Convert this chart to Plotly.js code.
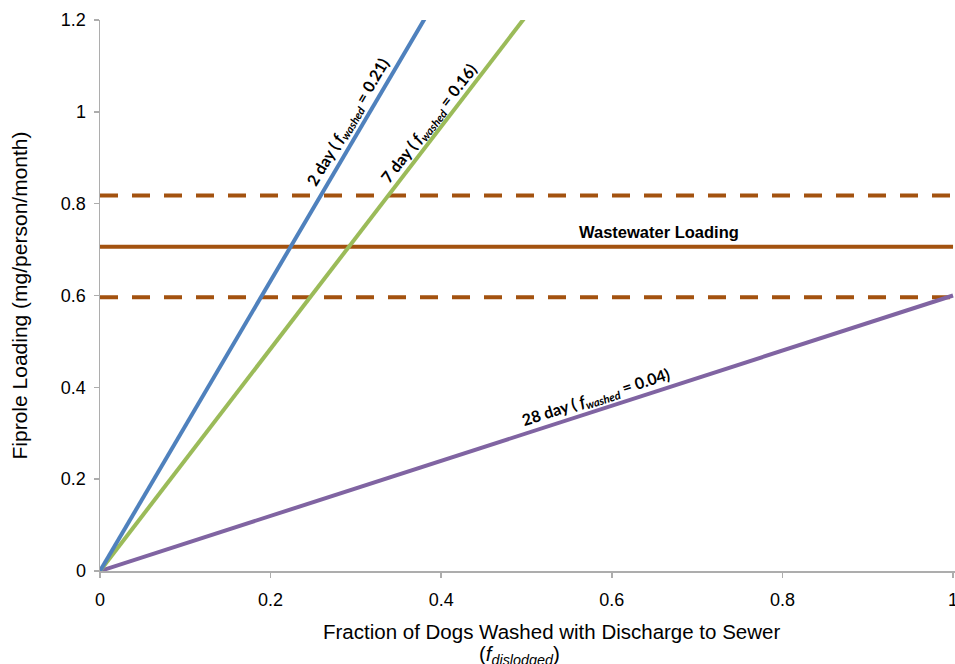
<!DOCTYPE html>
<html>
<head>
<meta charset="utf-8">
<script src="https://cdn.plot.ly/plotly-3.0.1.min.js"></script>
<style>body{margin:0;padding:0;background:#fff;} #chart{width:955px;height:664px;}</style>
</head>
<body>
<div id="chart"></div>
<script>
// Fraction of dogs washed (x) endpoints
const xEnds = [0, 1];
// Fiprole loading along each scenario line (mg/person/month) at x = 0 and x = 1
const day2Loading = [0, 3.16];
const day7Loading = [0, 2.42];
const day28Loading = [0, 0.6];
// Wastewater loading and its bounds
const wastewaterMean = 0.706;
const wastewaterUpper = 0.818;
const wastewaterLower = 0.596;
const xTicks = [0, 0.2, 0.4, 0.6, 0.8, 1];
const yTicks = [0, 0.2, 0.4, 0.6, 0.8, 1, 1.2];
const xTitleLine1 = 'Fraction of Dogs Washed with Discharge to Sewer';
const xTitleLine2 = '(<i>f</i><sub><i>dislodged</i></sub>)';
const yTitle = 'Fiprole Loading (mg/person/month)';

const brown = '#A3520F';
const traces = [
  {x: xEnds, y: [wastewaterUpper, wastewaterUpper], mode: 'lines', line: {color: brown, width: 4, dash: '18px,14px'}, hoverinfo: 'skip'},
  {x: xEnds, y: [wastewaterMean, wastewaterMean], mode: 'lines', line: {color: brown, width: 4}, hoverinfo: 'skip'},
  {x: xEnds, y: [wastewaterLower, wastewaterLower], mode: 'lines', line: {color: brown, width: 4, dash: '18px,14px'}, hoverinfo: 'skip'},
  {x: xEnds, y: day28Loading, mode: 'lines', line: {color: '#8064A2', width: 4}},
  {x: xEnds, y: day7Loading, mode: 'lines', line: {color: '#9BBB59', width: 4}},
  {x: xEnds, y: day2Loading, mode: 'lines', line: {color: '#4F81BD', width: 4}}
];

const annFont = {family: 'Lato, Open Sans, sans-serif', size: 16, color: '#000'};
const titleFont = {family: 'Liberation Sans, Arial, sans-serif', size: 20.5, color: '#000'};
const layout = {
  width: 955, height: 664,
  margin: {l: 100, r: 0, t: 20, b: 93},
  paper_bgcolor: '#fff', plot_bgcolor: '#fff',
  showlegend: false,
  font: {family: 'Liberation Sans, Arial, sans-serif', color: '#000'},
  xaxis: {
    range: [0, 1.0023], tickvals: xTicks, ticktext: xTicks.map(String),
    showgrid: false, zeroline: false, showline: true, linecolor: '#ADADAD', linewidth: 1.5,
    ticks: 'outside', ticklen: 5, tickcolor: '#ADADAD', tickwidth: 1.5,
    ticklabelstandoff: 7, ticklabeloverflow: 'allow',
    tickfont: {size: 18, color: '#000'}
  },
  yaxis: {
    range: [0, 1.2], tickvals: yTicks, ticktext: yTicks.map(String),
    showgrid: false, zeroline: false, showline: true, linecolor: '#ADADAD', linewidth: 1.5,
    ticks: 'outside', ticklen: 5, tickcolor: '#ADADAD', tickwidth: 1.5,
    ticklabelstandoff: 4,
    tickfont: {size: 18, color: '#000'},
    title: {text: yTitle, font: {size: 21, color: '#000'}, standoff: 27}
  },
  annotations: [
    {x: 0.5275, y: -0.109, xref: 'paper', yref: 'paper', showarrow: false, xanchor: 'center', yanchor: 'middle',
     text: xTitleLine1, font: titleFont},
    {x: 0.491, y: -0.152, xref: 'paper', yref: 'paper', showarrow: false, xanchor: 'center', yanchor: 'middle',
     text: xTitleLine2, font: titleFont},
    {x: 0.2917, y: 0.978, xref: 'x', yref: 'y', showarrow: false, textangle: -59.4,
     text: '<b>2 day ( <i>f</i><sub><i>washed</i></sub> = 0.21)</b>', font: annFont},
    {x: 0.386, y: 0.974, xref: 'x', yref: 'y', showarrow: false, textangle: -52.3,
     text: '<b>7 day ( <i>f</i><sub><i>washed</i></sub> = 0.16)</b>', font: annFont},
    {x: 0.581, y: 0.378, xref: 'x', yref: 'y', showarrow: false, textangle: -17.8,
     text: '<b>28 day ( <i>f</i><sub><i>washed</i></sub> = 0.04)</b>', font: annFont},
    {x: 0.655, y: 0.738, xref: 'x', yref: 'y', showarrow: false,
     text: '<b>Wastewater Loading</b>', font: {family: 'Liberation Sans, Arial, sans-serif', size: 16.5, color: '#000'}}
  ]
};
Plotly.newPlot('chart', traces, layout, {displayModeBar: false, staticPlot: true});
</script>
</body>
</html>
